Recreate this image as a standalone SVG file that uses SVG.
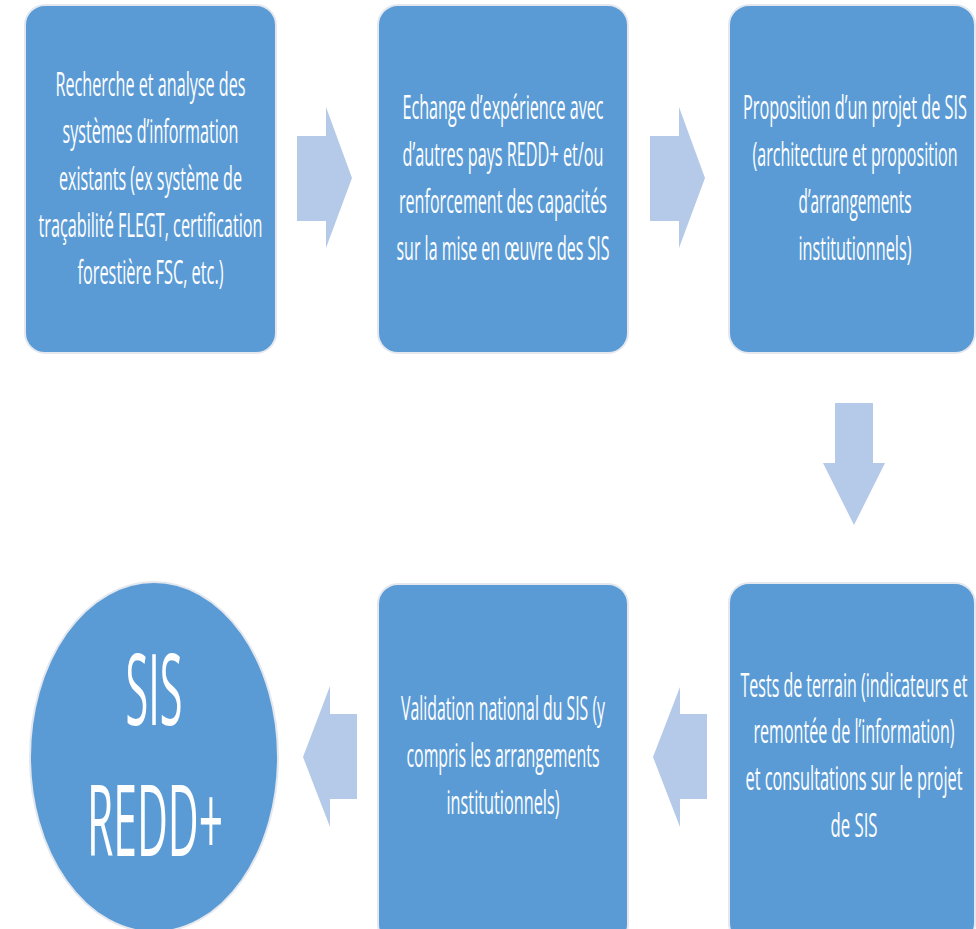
<svg xmlns="http://www.w3.org/2000/svg" width="976" height="929" viewBox="0 0 976 929">
<style>
.box{fill:#5b9bd5;stroke:#e4e8ee;stroke-width:2}
.arr{fill:#b5c9e8}
.t{fill:#ffffff;font-family:"Open Sans","Liberation Sans",sans-serif;font-size:32px;text-anchor:middle}
.big{fill:#ffffff;font-family:"Open Sans","Liberation Sans",sans-serif;font-size:98px;text-anchor:middle}
</style>
<rect width="976" height="929" fill="#ffffff"/>
<g id="connectors">
<polygon class="arr" points="297,136 326,136 326,107 352,178 326,248 326,221 297,221"/>
<polygon class="arr" points="650,136 679,136 679,107 705,178 679,248 679,221 650,221"/>
<polygon class="arr" points="835,403 873,403 873,463 885,463 854,525 823,463 835,463"/>
<polygon class="arr" points="707,714 680,714 680,687 653,757 680,827 680,799 707,799"/>
<polygon class="arr" points="357,714 330,714 330,686 303,757 330,827 330,799 357,799"/>
</g>
<g id="n1">
<rect class="box" x="25" y="5" width="251" height="348" rx="20"/>
<g transform="scale(0.5 1)">
<text class="t" x="301" y="96.5" textLength="380" lengthAdjust="spacingAndGlyphs">Recherche et analyse des</text>
<text class="t" x="301" y="143.5" textLength="352" lengthAdjust="spacingAndGlyphs">systèmes d’information</text>
<text class="t" x="301" y="190.5" textLength="366" lengthAdjust="spacingAndGlyphs">existants (ex système de</text>
<text class="t" x="301" y="237.5" textLength="448" lengthAdjust="spacingAndGlyphs">traçabilité FLEGT, certification</text>
<text class="t" x="301" y="284.5" textLength="292" lengthAdjust="spacingAndGlyphs">forestière FSC, etc.)</text>
</g>
</g>
<g id="n2">
<rect class="box" x="378" y="5" width="250" height="348" rx="20"/>
<g transform="scale(0.5 1)">
<text class="t" x="1006" y="119" textLength="402" lengthAdjust="spacingAndGlyphs">Echange d’expérience avec</text>
<text class="t" x="1006" y="166" textLength="402" lengthAdjust="spacingAndGlyphs">d’autres pays REDD+ et/ou</text>
<text class="t" x="1006" y="213" textLength="416" lengthAdjust="spacingAndGlyphs">renforcement des capacités</text>
<text class="t" x="1006" y="260" textLength="426" lengthAdjust="spacingAndGlyphs">sur la mise en œuvre des SIS</text>
</g>
</g>
<g id="n3">
<rect class="box" x="729" y="5" width="246" height="348" rx="20"/>
<g transform="scale(0.5 1)">
<text class="t" x="1710" y="119" textLength="448" lengthAdjust="spacingAndGlyphs">Proposition d’un projet de SIS</text>
<text class="t" x="1710" y="166" textLength="410" lengthAdjust="spacingAndGlyphs">(architecture et proposition</text>
<text class="t" x="1710" y="213" textLength="226" lengthAdjust="spacingAndGlyphs">d’arrangements</text>
<text class="t" x="1710" y="260" textLength="226" lengthAdjust="spacingAndGlyphs">institutionnels)</text>
</g>
</g>
<g id="n4">
<rect class="box" x="729" y="583" width="246" height="360" rx="20"/>
<g transform="scale(0.5 1)">
<text class="t" x="1708" y="697" textLength="454" lengthAdjust="spacingAndGlyphs">Tests de terrain (indicateurs et</text>
<text class="t" x="1708" y="743" textLength="402" lengthAdjust="spacingAndGlyphs">remontée de l’information)</text>
<text class="t" x="1708" y="790" textLength="434" lengthAdjust="spacingAndGlyphs">et consultations sur le projet</text>
<text class="t" x="1708" y="837" textLength="94" lengthAdjust="spacingAndGlyphs">de SIS</text>
</g>
</g>
<g id="n5">
<rect class="box" x="378" y="584" width="250" height="360" rx="20"/>
<g transform="scale(0.5 1)">
<text class="t" x="1006" y="720" textLength="408" lengthAdjust="spacingAndGlyphs">Validation national du SIS (y</text>
<text class="t" x="1006" y="767" textLength="386" lengthAdjust="spacingAndGlyphs">compris les arrangements</text>
<text class="t" x="1006" y="814" textLength="226" lengthAdjust="spacingAndGlyphs">institutionnels)</text>
</g>
</g>
<g id="n6">
<ellipse class="box" cx="154" cy="757" rx="124" ry="175"/>
<g transform="scale(0.43 1)">
<text class="big" x="358.1" y="725" textLength="132.6" lengthAdjust="spacingAndGlyphs">SIS</text>
<text class="big" x="360.5" y="856" textLength="316.3" lengthAdjust="spacingAndGlyphs">REDD+</text>
</g>
</g>
</svg>
